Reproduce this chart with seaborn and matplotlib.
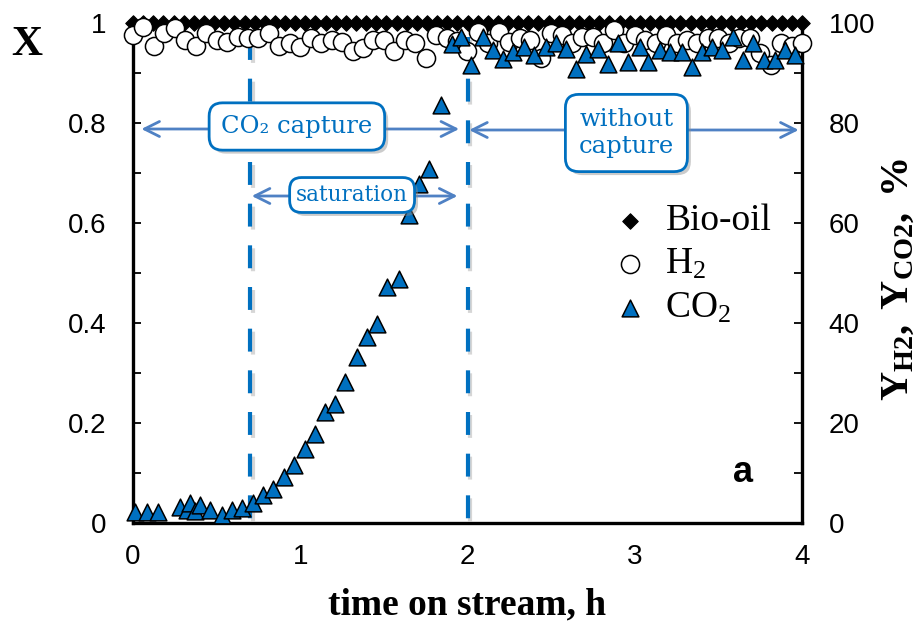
import numpy as np
import matplotlib
matplotlib.use("Agg")
import matplotlib.pyplot as plt
import matplotlib.patheffects as pe
from matplotlib.ticker import MultipleLocator, FuncFormatter
import seaborn as sns

# ---- data -------------------------------------------------------------
# bio-oil conversion X (left axis), sampled every ~0.06 h
time_bio = np.linspace(0.0, 4.0, 67)
conv_bio = [1.0] * len(time_bio)

# H2 yield, % (right axis)
time_h2 = np.arange(65) * 0.0625
yield_h2 = [97.6, 99.2, 95.5, 98.0, 99.0, 96.6, 95.5, 98.0, 96.6, 96.2,
            97.2, 97.0, 97.0, 98.0, 95.5, 96.0, 95.2, 97.0, 96.0, 96.6,
            96.2, 94.5, 95.0, 96.6, 96.6, 94.5, 96.6, 96.0, 93.1, 97.6,
            97.0, 96.5, 94.5, 98.3, 96.0, 98.3, 96.3, 97.0, 96.6, 93.0,
            98.0, 97.6, 96.0, 97.3, 97.3, 96.0, 98.6, 96.0, 97.6, 96.6,
            96.0, 97.6, 96.0, 96.6, 96.0, 97.0, 97.0, 96.0, 97.0, 97.0,
            94.0, 91.6, 96.0, 95.5, 96.0]

# CO2 yield, % (right axis)
time_co2 = [0.01, 0.085, 0.15, 0.28, 0.32, 0.34, 0.37, 0.40, 0.46, 0.53,
            0.59, 0.65, 0.72, 0.78, 0.84, 0.90, 0.96, 1.03, 1.09, 1.15,
            1.21, 1.27, 1.34, 1.40, 1.46, 1.52, 1.59, 1.65, 1.71, 1.77,
            1.84, 1.91, 1.96, 2.02, 2.09, 2.15, 2.21, 2.27, 2.34, 2.40,
            2.47, 2.53, 2.59, 2.65, 2.71, 2.78, 2.84, 2.90, 2.96, 3.03,
            3.08, 3.15, 3.21, 3.28, 3.34, 3.40, 3.46, 3.52, 3.59, 3.65,
            3.71, 3.77, 3.84, 3.90, 3.96]
yield_co2 = [2.3, 2.3, 2.3, 3.3, 2.6, 4.1, 2.4, 3.6, 2.6, 1.6,
             2.6, 3.1, 4.1, 5.6, 6.9, 9.3, 11.6, 14.8, 17.8, 22.3,
             23.9, 28.3, 33.3, 37.3, 39.9, 47.3, 48.9, 61.6, 67.9, 70.9,
             83.6, 95.9, 97.3, 91.6, 97.3, 94.6, 92.9, 94.3, 95.3, 93.6,
             95.3, 96.0, 94.9, 90.9, 93.9, 94.9, 91.9, 96.0, 92.3, 95.3,
             92.3, 94.6, 94.3, 94.3, 91.3, 94.3, 95.3, 94.6, 97.3, 92.6,
             96.0, 92.6, 92.6, 94.6, 93.6]

series_labels = ["Bio-oil", "H$_2$", "CO$_2$"]

# operating stages (h) and their labels
stage_bounds = [0.7, 2.0]
stage_texts = ["CO\u2082 capture", "saturation", "without\ncapture"]

# ---- style ------------------------------------------------------------
sns.set_theme(style="white")
plt.rcParams.update({
    "font.family": ["Liberation Sans", "DejaVu Sans"],
    "mathtext.fontset": "custom",
    "mathtext.rm": "Liberation Serif",
    "mathtext.it": "Liberation Serif:italic",
    "mathtext.bf": "Liberation Serif:bold",
    "text.color": "black",
    "axes.labelcolor": "black",
    "axes.edgecolor": "black",
    "xtick.color": "black",
    "ytick.color": "black",
})

BLUE = "#0070C0"
ARROW = "#4F81C4"

fig = plt.figure(figsize=(9.22, 6.28), dpi=100)
ax = fig.add_axes([133 / 922, 105 / 628, 669 / 922, 500 / 628])
ax2 = ax.twinx()

ax.set_xlim(0, 4)
ax.set_ylim(0, 1)
ax2.set_ylim(0, 100)

# stage boundaries
for xb in stage_bounds:
    ax.plot([xb, xb], [0.972, 0.004], color=BLUE, lw=3.0,
            linestyle=(0, (5.5, 4.5)), solid_capstyle="butt", zorder=1,
            path_effects=[pe.SimpleLineShadow(offset=(2, -2), shadow_color="0.55", alpha=0.35),
                          pe.Normal()])

# series
sns.scatterplot(x=time_bio, y=conv_bio, ax=ax, marker="D", s=62,
                color="black", edgecolor="black", linewidth=0.8,
                clip_on=False, zorder=2, legend=False)
sns.scatterplot(x=time_h2, y=yield_h2, ax=ax2, marker="o", s=170,
                color="white", edgecolor="black", linewidth=1.1,
                clip_on=False, zorder=3, legend=False)
sns.scatterplot(x=time_co2, y=yield_co2, ax=ax2, marker="^", s=145,
                color=BLUE, edgecolor="black", linewidth=1.1,
                clip_on=False, zorder=4, legend=False)

# spines and ticks
for a in (ax, ax2):
    a.spines["top"].set_visible(False)
    for s in a.spines.values():
        s.set_linewidth(2.4)
ax.spines["right"].set_visible(False)
ax2.spines["left"].set_visible(False)
ax2.spines["bottom"].set_visible(False)

ax.xaxis.set_major_locator(MultipleLocator(1))
ax.xaxis.set_minor_locator(MultipleLocator(0.5))
ax.yaxis.set_major_locator(MultipleLocator(0.2))
ax.yaxis.set_minor_locator(MultipleLocator(0.1))
ax.yaxis.set_major_formatter(FuncFormatter(lambda v, p: "%g" % round(v, 2)))
ax2.yaxis.set_major_locator(MultipleLocator(20))
ax2.yaxis.set_minor_locator(MultipleLocator(10))

ax.tick_params(axis="x", which="both", direction="in", length=6.5, width=1.3,
               pad=15, labelsize=20)
ax.tick_params(axis="y", which="both", direction="in", length=6, width=1.3,
               pad=19, labelsize=20, right=False)
ax2.tick_params(axis="y", which="both", direction="in", length=6, width=1.3,
                pad=19, labelsize=20)
for lab in ax.get_xticklabels() + ax.get_yticklabels() + ax2.get_yticklabels():
    lab.set_family("Liberation Sans")

ax.set_xlabel("time on stream, h", family="Liberation Serif", fontsize=27,
              fontweight="bold", labelpad=13)
fig.text(27 / 922, 1 - 45 / 628, "X", family="Liberation Serif", fontsize=31,
         fontweight="bold", ha="center", va="center")
fig.text(897 / 922, 1 - 280 / 628, r"$\mathbf{Y_{H2},\ Y_{CO2},\ \%}$",
         fontsize=29, rotation=90, ha="center", va="center")

# stage arrows and captions
arrow_kw = dict(arrowstyle="<->,head_length=0.9,head_width=0.45", color=ARROW,
                lw=2.0, shrinkA=0, shrinkB=0)
ax2.annotate("", xy=(1.95, 78.8), xytext=(0.05, 78.8), arrowprops=arrow_kw, zorder=5)
ax2.annotate("", xy=(1.94, 65.4), xytext=(0.71, 65.4), arrowprops=arrow_kw, zorder=5)
ax2.annotate("", xy=(3.98, 78.6), xytext=(2.01, 78.6), arrowprops=arrow_kw, zorder=5)

box_shadow = [pe.withSimplePatchShadow(offset=(2.5, -2.5), shadow_rgbFace="0.55", alpha=0.45)]
captions = [
    (0.98, 79.3, stage_texts[0], 17.5, 0.5),
    (1.31, 65.6, stage_texts[1], 15.5, 0.3),
    (2.95, 78.0, stage_texts[2], 17.5, 0.55),
]
for cx, cy, txt, fs, pad in captions:
    t = ax2.text(cx, cy, txt, family="DejaVu Serif", fontsize=fs, color=BLUE,
                 ha="center", va="center", linespacing=1.25, zorder=6,
                 bbox=dict(boxstyle="round,pad=%s,rounding_size=0.55" % pad,
                           fc="white", ec=BLUE, lw=2.0))
    t.get_bbox_patch().set_path_effects(box_shadow)

ax2.text(3.65, 8.2, "a", family="Liberation Sans", fontsize=26,
         fontweight="bold", ha="center", va="baseline", zorder=6)

# legend
handles = [ax.collections[0], ax2.collections[0], ax2.collections[1]]
fig.legend(handles, series_labels, loc="upper left",
           bbox_to_anchor=(611 / 922, 1 - 204 / 628), frameon=False,
           prop={"family": "Liberation Serif", "size": 27},
           handlelength=1.0, handletextpad=0.45, labelspacing=0.24,
           borderpad=0, borderaxespad=0, scatterpoints=1)

fig.savefig("out.png", dpi=100)
